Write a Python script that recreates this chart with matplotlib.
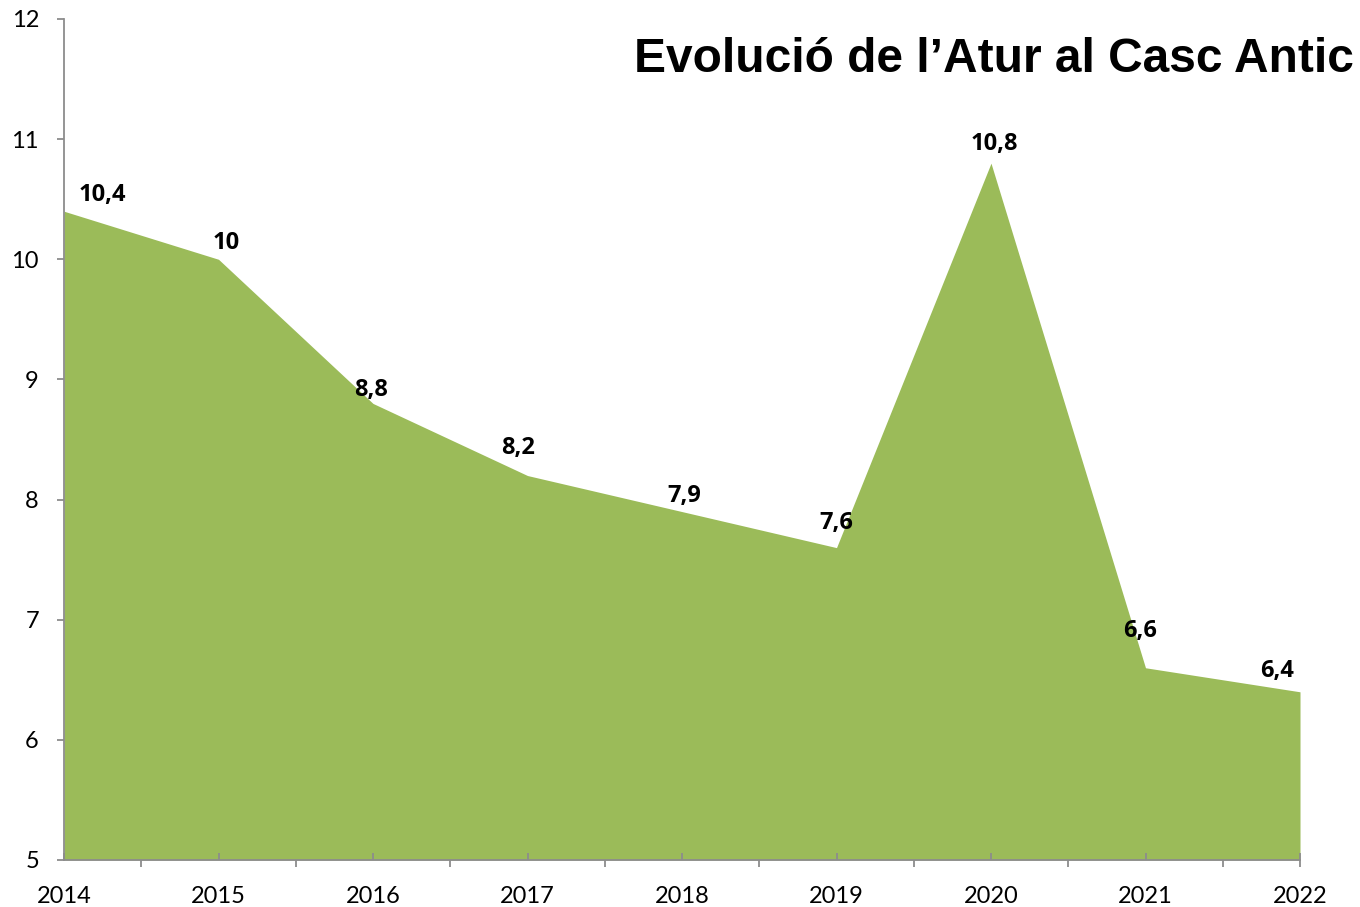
import matplotlib
matplotlib.use("Agg")
import matplotlib.pyplot as plt
from matplotlib.ticker import FixedLocator

years = [2014, 2015, 2016, 2017, 2018, 2019, 2020, 2021, 2022]
atur = [10.4, 10.0, 8.8, 8.2, 7.9, 7.6, 10.8, 6.6, 6.4]
labels = ["10,4", "10", "8,8", "8,2", "7,9", "7,6", "10,8", "6,6", "6,4"]
title = "Evolució de l’Atur al Casc Antic"

# label offsets in pixels (dx, dy up)
offsets_px = [(38, 16), (8, 16), (-2, 13), (-9, 28), (2, 16), (0, 25), (3, 19), (-5, 37), (-23, 21)]

fill_color = "#9BBB59"
axis_color = "#8C8C8C"

fig = plt.figure(figsize=(13.6, 9.07), dpi=100)
ax = fig.add_axes([64 / 1360, 1 - 860 / 907, (1300 - 64) / 1360, (860 - 19) / 907])

ax.fill_between(years, atur, 5, color=fill_color, linewidth=0)
ax.set_xlim(2014, 2022)
ax.set_ylim(5, 12)

for x, y, lab, (dx, dy) in zip(years, atur, labels, offsets_px):
    ax.annotate(lab, (x, y), xytext=(dx * 0.72, dy * 0.72), textcoords="offset points",
                ha="center", va="center", fontsize=17, fontweight="bold",
                family="Open Sans", color="black")

for s in ["top", "right"]:
    ax.spines[s].set_visible(False)
for s in ["left", "bottom"]:
    ax.spines[s].set_color(axis_color)
    ax.spines[s].set_linewidth(1.3)

ax.set_yticks(range(5, 13))
ax.set_xticks(years)
ax.xaxis.set_minor_locator(FixedLocator([y + 0.5 for y in years[:-1]] + [years[-1]]))
ax.xaxis.remove_overlapping_locs = False

ax.tick_params(axis="y", direction="out", length=5, width=1.3, color=axis_color,
               pad=13, labelsize=17)
ax.tick_params(axis="x", which="major", direction="in", length=5, width=1.3,
               color=axis_color, pad=19, labelsize=17)
ax.tick_params(axis="x", which="minor", direction="out", length=5, width=1.3,
               color=axis_color)
for lab in ax.get_xticklabels() + ax.get_yticklabels():
    lab.set_family("Lato")

fig.text(1354 / 1360, 1 - 60 / 907, title, ha="right", va="center",
         fontsize=34.5, fontweight="bold", family="Liberation Sans", color="black")

fig.savefig("out.png", dpi=100)
